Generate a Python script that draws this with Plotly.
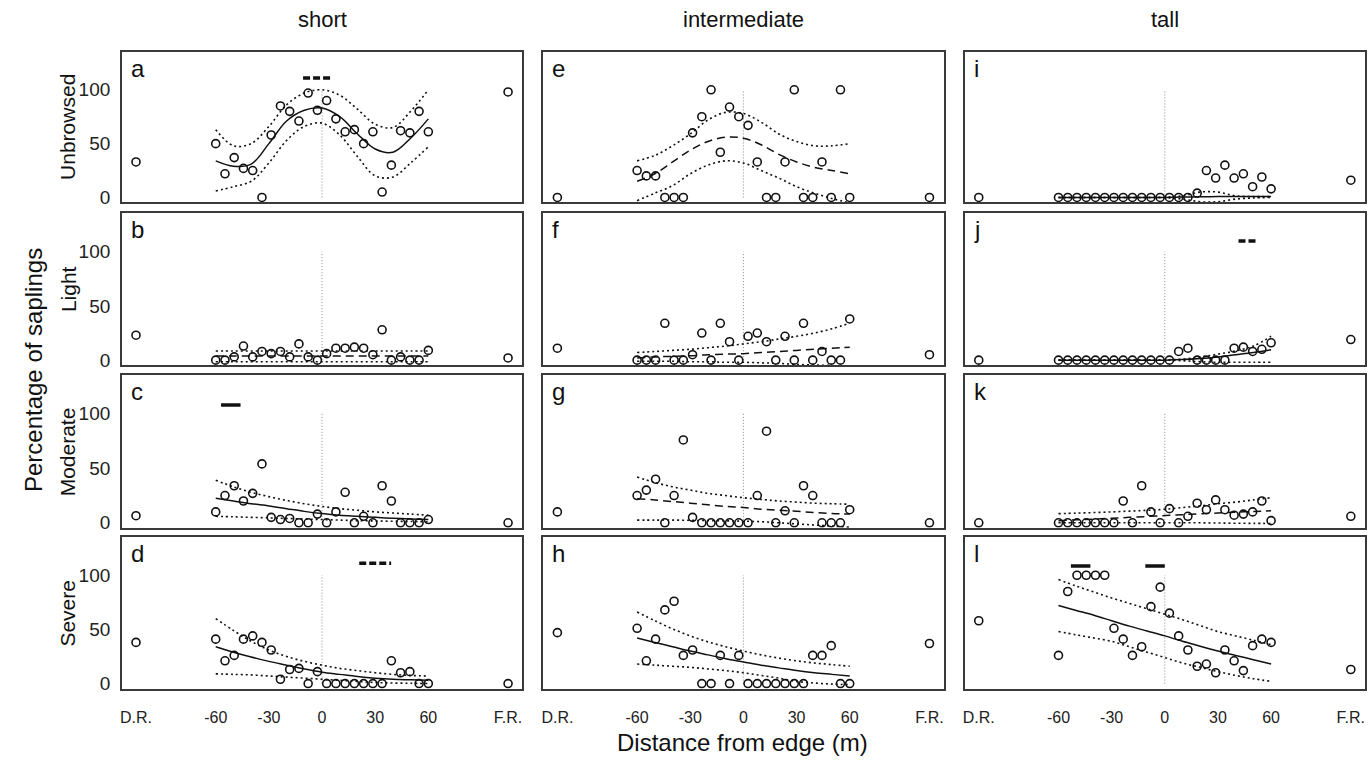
import plotly.graph_objects as go

W, H = 1369, 766
COL_PX = [(120, 521), (542, 943), (964, 1365)]
ROW_PX = [(52, 204), (215, 368), (378, 532), (541, 694)]
X_RANGE = [-113, 113]
Y_RANGE = [-4.6, 135.5]

COLUMN_TITLES = ["short", "intermediate", "tall"]
ROW_TITLES = ["Unbrowsed", "Light", "Moderate", "Severe"]
LETTERS = ["a", "e", "i", "b", "f", "j", "c", "g", "k", "d", "h", "l"]

X_TICK_VALS = [-105, -60, -30, 0, 30, 60, 105]
X_TICK_TEXT = ["D.R.", "-60", "-30", "0", "30", "60", "F.R."]
Y_TICK_VALS = [0, 50, 100]

# transect positions (m) and reference plots (D.R. / F.R.)
DIST = [-60, -54.78, -49.57, -44.35, -39.13, -33.91, -28.70, -23.48, -18.26, -13.04, -7.83, -2.61,
        2.61, 7.83, 13.04, 18.26, 23.48, 28.70, 33.91, 39.13, 44.35, 49.57, 54.78, 60]
END_X = [-105, 105]
FIT_X = [-60, -50, -40, -30, -20, -10, 0, 10, 20, 30, 40, 50, 60]
EDGE_X = [0, 0]
EDGE_Y = [0, 100]

# ---- short / unbrowsed (a)
A_PTS = [50, 22, 37, 27, 25, 0, 58, 85, 80, 71, 97, 81, 90, 73, 61, 63, 50, 61, 5, 30, 62, 60, 80, 61]
A_END = [33, 98]
A_FIT = [34, 29, 31, 50, 71, 81, 83, 75, 59, 45, 42, 55, 73]
A_UP = [63, 48, 50, 66, 86, 97, 100, 95, 82, 68, 65, 80, 100]
A_LO = [6, 10, 15, 32, 53, 66, 69, 58, 38, 20, 19, 32, 47]
# ---- intermediate / unbrowsed (e)
E_PTS = [25, 20, 20, 0, 0, 0, 60, 75, 100, 42, 84, 75, 67, 33, 0, 0, 33, 100, 0, 0, 33, 0, 100, 0]
E_END = [0, 0]
E_FIT = [15, 22, 33, 44, 52, 56, 55, 49, 40, 33, 28, 25, 22]
E_UP = [34, 39, 48, 59, 72, 79, 78, 70, 59, 52, 48, 48, 50]
E_LO = [-3, 4, 11, 22, 30, 34, 32, 25, 18, 10, 4, -1, -5]
# ---- tall / unbrowsed (i)
I_PTS = [0, 0, 0, 0, 0, 0, 0, 0, 0, 0, 0, 0, 0, 0, 0, 4, 25, 18, 30, 18, 22, 10, 19, 8]
I_END = [0, 16]
I_FIT = [0, 0, 0, 0, 0, 0, 0, 0.3, 0.6, 0.8, 0.8, 0.8, 0.8]
I_UP = [0, 0, 0, 0, 0, 0, 0.3, 1.5, 5, 5, 1.5, 0.8, 0.8]
I_LO = [0, 0, 0, 0, 0, 0, -0.3, -1.5, -4, -4, -1.5, -0.5, 0]
# ---- short / light (b)
B_PTS = [0, 0, 3, 13, 3, 8, 6, 8, 3, 15, 3, 0, 6, 11, 11, 12, 11, 5, 28, 0, 3, 0, 0, 9]
B_END = [23, 2]
B_FIT = [3.8, 3.8, 3.8, 3.8, 3.8, 3.8, 3.8, 3.8, 3.8, 3.8, 3.8, 3.8, 3.8]
B_UP = [8.4, 8.4, 8.4, 8.4, 8.4, 8.4, 8.4, 8.4, 8.4, 8.4, 8.4, 8.4, 8.4]
B_LO = [-1.5, -1.5, -1.5, -1.5, -1.5, -1.5, -1.5, -1.5, -1.5, -1.5, -1.5, -1.5, -1.5]
# ---- intermediate / light (f)
F_PTS = [0, 0, 0, 34, 0, 0, 5, 25, 0, 34, 17, 0, 22, 25, 17, 0, 22, 0, 34, 0, 8, 0, 0, 38]
F_END = [11, 5]
F_FIT = [2, 3, 3.5, 4, 5, 5.5, 6, 7, 8, 9, 10, 11, 12]
F_UP = [7, 8, 9, 10, 11.5, 13, 15, 17, 19.5, 22, 25, 29, 34]
F_LO = [-1, -1, -1, -1.5, -1.5, -2, -2, -2.5, -3, -4, -4.5, -5, -6]
# ---- tall / light (j)
J_PTS = [0, 0, 0, 0, 0, 0, 0, 0, 0, 0, 0, 0, 0, 8, 11, 0, 0, 0, 0, 11, 12, 8, 10, 16]
J_END = [0, 19]
J_FIT = [0, 0, 0, 0, 0, 0, 0, 0.5, 1.5, 3, 5, 7, 9.5]
J_UP = [0, 0, 0, 0, 0, 0, 0.3, 1, 3, 5.5, 8.5, 13, 22]
J_LO = [0, 0, 0, 0, 0, 0, 0, -0.5, -1.5, -2, -2, -2, -2]
# ---- short / moderate (c)
C_PTS = [10, 25, 34, 20, 27, 54, 5, 3, 4, 0, 0, 8, 0, 10, 28, 0, 6, 0, 34, 20, 0, 0, 0, 3]
C_END = [6.5, 0]
C_FIT = [22.5, 20, 17.5, 15.5, 13, 10.5, 8.5, 7, 6, 5, 4.2, 3.5, 3]
C_UP = [39, 33, 28, 24, 20.5, 17.5, 15, 13, 11.5, 10, 9, 8, 7]
C_LO = [6, 5.5, 5, 4.5, 4, 3.5, 3, 2.5, 2, 1.7, 1.4, 1.2, 1]
# ---- intermediate / moderate (g)
G_PTS = [25, 30, 40, 0, 25, 76, 5, 0, 0, 0, 0, 0, 0, 25, 84, 0, 11, 0, 34, 25, 0, 0, 0, 12]
G_END = [10, 0]
G_FIT = [22, 21, 19.5, 18, 16.5, 15, 14, 12.5, 11.5, 10.5, 9.5, 8.5, 8]
G_UP = [42, 37, 33, 30, 27, 25, 23, 21.5, 20, 19, 18, 17.5, 17]
G_LO = [2.5, 2.5, 2.5, 2.3, 2, 1.8, 1.5, 1, 0, -1, -2, -3, -4]
# ---- tall / moderate (k)
K_PTS = [0, 0, 0, 0, 0, 0, 0, 20, 0, 34, 10, 0, 13, 0, 6, 18, 12, 21, 12, 7, 8, 10, 20, 2]
K_END = [0, 6]
K_FIT = [2, 2.7, 3.3, 4.2, 5, 5.8, 6.7, 7.5, 8.3, 9, 9.8, 10.4, 11]
K_UP = [8.4, 8.9, 9.4, 10, 10.7, 11.5, 12.4, 14, 15.5, 17.5, 19, 21, 23]
K_LO = [0, 0, 0, 0, 0, 0, 0, 0, 0, -0.2, -0.4, -0.5, -0.6]
# ---- short / severe (d)
D_PTS = [41, 21, 26, 41, 44, 38, 31, 4, 13, 14, 0, 11, 0, 0, 0, 0, 0, 0, 0, 21, 10, 11, 0, 0]
D_END = [38, 0]
D_FIT = [34, 29, 24.5, 20.5, 17, 13.5, 10.5, 8.5, 6.5, 5, 4, 3.5, 3]
D_UP = [60, 49, 39, 31, 25, 20.5, 17, 14, 12, 10, 8.5, 7.5, 7]
D_LO = [9, 8.5, 8, 7, 6, 5, 4, 3, 2, 1, 0.5, 0.3, 0]
# ---- intermediate / severe (h)
H_PTS = [51, 21, 41, 68, 76, 26, 31, 0, 0, 26, 0, 26, 0, 0, 0, 0, 0, 0, 0, 26, 26, 35, 0, 0]
H_END = [47, 37]
H_FIT = [42, 38, 34, 30, 26.5, 23, 20, 17, 14.5, 12, 10, 8.5, 7]
H_UP = [66, 58, 50.5, 44, 38.5, 34, 30, 26.5, 23.5, 21, 19, 17.5, 16]
H_LO = [18, 17, 16, 15, 13.5, 12, 10, 7.5, 5, 2, 0.5, -0.5, -1]
# ---- tall / severe (l)
L_PTS = [26, 85, 100, 100, 100, 100, 51, 41, 26, 34, 71, 89, 65, 44, 31, 16, 18, 10, 31, 21, 12, 35, 41, 38]
L_END = [58, 13]
L_FIT = [72, 67.5, 63, 58, 53, 48.5, 44, 39, 34.5, 30, 26, 22, 18]
L_UP = [96, 90, 84.5, 79, 74, 69, 64, 59, 53.5, 48, 44, 40, 36]
L_LO = [48, 45, 42, 39, 34, 29, 24, 19, 15, 11, 7.5, 4.5, 2]

# significance bars: [x_start, x_end, y]
A_BARS = [[-10.7, 6.2, 111]]
C_BARS = [[-57, -46, 108]]
D_BARS = [[21, 39, 111]]
J_BARS = [[41.6, 52.8, 110]]
L_BARS = [[-53, -42, 108.5], [-11, 0, 108.5]]

# panel order: row-major (row = browsing level, col = height class)
PANELS = [
    (A_PTS, A_END, A_FIT, A_UP, A_LO, "solid", A_BARS, "dashed"),
    (E_PTS, E_END, E_FIT, E_UP, E_LO, "dashed", [], None),
    (I_PTS, I_END, I_FIT, I_UP, I_LO, "solid", [], None),
    (B_PTS, B_END, B_FIT, B_UP, B_LO, "dashed", [], None),
    (F_PTS, F_END, F_FIT, F_UP, F_LO, "dashed", [], None),
    (J_PTS, J_END, J_FIT, J_UP, J_LO, "solid", J_BARS, "dashed"),
    (C_PTS, C_END, C_FIT, C_UP, C_LO, "solid", C_BARS, "solid"),
    (G_PTS, G_END, G_FIT, G_UP, G_LO, "dashed", [], None),
    (K_PTS, K_END, K_FIT, K_UP, K_LO, "dashed", [], None),
    (D_PTS, D_END, D_FIT, D_UP, D_LO, "solid", D_BARS, "dashed"),
    (H_PTS, H_END, H_FIT, H_UP, H_LO, "solid", [], None),
    (L_PTS, L_END, L_FIT, L_UP, L_LO, "solid", L_BARS, "solid"),
]

FONT = "Liberation Sans, Arial, sans-serif"
FIT_DASH = {"solid": "solid", "dashed": "8px,5px"}
BAR_DASH = {"solid": "solid", "dashed": "7px,3px"}

fig = go.Figure()
layout = dict(width=W, height=H, margin=dict(l=0, r=0, t=0, b=0),
              paper_bgcolor="white", plot_bgcolor="white", showlegend=False,
              font=dict(family=FONT, color="#111"))
annotations = []

for p, (pts, ends, fit, up, lo, fdash, bars, bstyle) in enumerate(PANELS):
    r, c = divmod(p, 3)
    n = p + 1
    xa = "x" if n == 1 else f"x{n}"
    ya = "y" if n == 1 else f"y{n}"
    x0, x1 = COL_PX[c]
    yt, yb = ROW_PX[r]
    layout["xaxis" if n == 1 else f"xaxis{n}"] = dict(
        domain=[x0 / W, x1 / W], range=X_RANGE, anchor=ya,
        showgrid=False, zeroline=False, showline=True, mirror=True,
        linecolor="#3a3a3a", linewidth=1.5, ticks="",
        tickvals=X_TICK_VALS, ticktext=X_TICK_TEXT, ticklabelstandoff=13,
        showticklabels=(r == 3), tickfont=dict(size=16, color="#222", family=FONT))
    layout["yaxis" if n == 1 else f"yaxis{n}"] = dict(
        domain=[1 - yb / H, 1 - yt / H], range=Y_RANGE, anchor=xa,
        showgrid=False, zeroline=False, showline=True, mirror=True,
        linecolor="#3a3a3a", linewidth=1.5, ticks="",
        tickvals=Y_TICK_VALS, showticklabels=(c == 0), ticklabelstandoff=6,
        tickfont=dict(size=19, color="#222", family=FONT))

    # edge reference line
    fig.add_trace(go.Scatter(x=EDGE_X, y=EDGE_Y, mode="lines", xaxis=xa, yaxis=ya,
                             line=dict(color="#8a8a8a", width=1, dash="1px,2px"),
                             hoverinfo="skip"))
    # confidence bands
    for band in (up, lo):
        fig.add_trace(go.Scatter(x=FIT_X, y=band, mode="lines", xaxis=xa, yaxis=ya,
                                 line=dict(color="#111", width=1.6, dash="2px,3px",
                                           shape="spline", smoothing=1.0),
                                 hoverinfo="skip"))
    # fitted curve
    fig.add_trace(go.Scatter(x=FIT_X, y=fit, mode="lines", xaxis=xa, yaxis=ya,
                             line=dict(color="#111", width=1.5, dash=FIT_DASH[fdash],
                                       shape="spline", smoothing=1.0),
                             hoverinfo="skip"))
    # observations
    fig.add_trace(go.Scatter(x=DIST + END_X, y=pts + ends, mode="markers", xaxis=xa, yaxis=ya,
                             marker=dict(symbol="circle-open", size=8, color="#111",
                                         line=dict(width=1.6, color="#111"))))
    # significance bars
    for b in bars:
        fig.add_trace(go.Scatter(x=[b[0], b[1]], y=[b[2], b[2]], mode="lines", xaxis=xa, yaxis=ya,
                                 line=dict(color="#111", width=3.5, dash=BAR_DASH[bstyle]),
                                 hoverinfo="skip"))
    # panel letter
    annotations.append(dict(text=LETTERS[p], x=(x0 + 7) / W, y=1 - (yt + 1) / H,
                            xref="paper", yref="paper", xanchor="left", yanchor="top",
                            showarrow=False, font=dict(size=24, color="#111", family=FONT)))

for c, t in enumerate(COLUMN_TITLES):
    annotations.append(dict(text=t, x=(COL_PX[c][0] + COL_PX[c][1]) / 2 / W, y=1 - 20 / H,
                            xref="paper", yref="paper", xanchor="center", yanchor="middle",
                            showarrow=False, font=dict(size=22, color="#111", family=FONT)))
for r, t in enumerate(ROW_TITLES):
    annotations.append(dict(text=t, x=66 / W, y=1 - (ROW_PX[r][0] + ROW_PX[r][1]) / 2 / H,
                            xref="paper", yref="paper", xanchor="center", yanchor="middle",
                            textangle=-90, showarrow=False,
                            font=dict(size=21, color="#111", family=FONT)))
annotations.append(dict(text="Percentage of saplings", x=31 / W, y=1 - 373 / H,
                        xref="paper", yref="paper", xanchor="center", yanchor="middle",
                        textangle=-90, showarrow=False,
                        font=dict(size=24, color="#111", family=FONT)))
annotations.append(dict(text="Distance from edge (m)", x=742 / W, y=1 - 748 / H,
                        xref="paper", yref="paper", xanchor="center", yanchor="middle",
                        showarrow=False, font=dict(size=24, color="#111", family=FONT)))

layout["annotations"] = annotations
fig.update_layout(**layout)
fig.write_html("out.html")
